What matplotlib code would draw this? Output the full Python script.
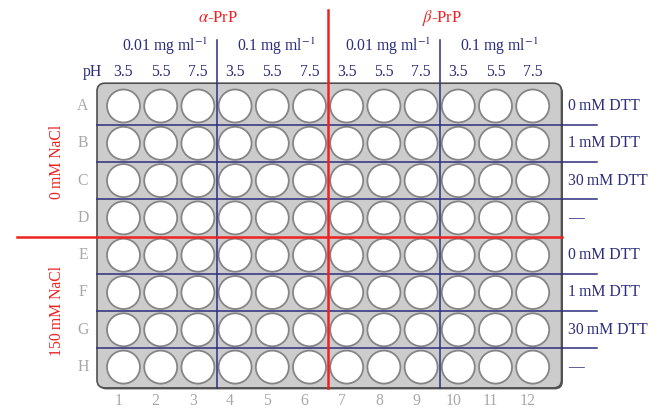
import matplotlib.pyplot as plt
from matplotlib.patches import Circle, FancyBboxPatch

plt.rcParams['font.family'] = ['Liberation Serif', 'DejaVu Serif']
plt.rcParams['mathtext.fontset'] = 'stix'

# plate layout data
rows = ["A", "B", "C", "D", "E", "F", "G", "H"]
cols = [str(i) for i in range(1, 13)]
ph_labels = ["3.5", "5.5", "7.5"] * 4
conc_labels = ["0.01 mg ml$^{-1}$", "0.1 mg ml$^{-1}$"] * 2
protein_labels = [r"$\mathit{\alpha}$-PrP", r"$\mathit{\beta}$-PrP"]
dtt_labels = ["0\u2009mM DTT", "1\u2009mM DTT", "30\u2009mM DTT", "\u2014"] * 2
nacl_labels = ["0\u2009mM NaCl", "150\u2009mM NaCl"]

navy = "#2d2d7c"
red = "#ee2222"
grey = "#a8a8a8"

# pixel geometry
x0, dx = 123.5, 37.2
y0, dy = 106.0, 37.3
r = 16.5

def cx(j):
    return x0 + j * dx

def cy(i):
    return y0 + i * dy

fig = plt.figure(figsize=(6.62, 4.09), dpi=100)
ax = fig.add_axes([0, 0, 1, 1])
ax.set_xlim(0, 662)
ax.set_ylim(409, 0)
ax.axis("off")

left = cx(0) - r - 10
right = cx(11) + r + 12.3
top = cy(0) - r - 6.3
bottom = cy(7) + r + 4.3

# plate shadow + body
shadow = FancyBboxPatch((left + 1.5, top + 1.5), right - left, bottom - top,
                        boxstyle="round,pad=0,rounding_size=8",
                        fc="#555555", ec="none", zorder=1)
ax.add_patch(shadow)
plate = FancyBboxPatch((left, top), right - left, bottom - top,
                       boxstyle="round,pad=0,rounding_size=8",
                       fc="#cccccc", ec="#505050", lw=1.2, zorder=2)
ax.add_patch(plate)

# wells
for i in range(len(rows)):
    for j in range(len(cols)):
        ax.add_patch(Circle((cx(j), cy(i)), r, fc="white", ec="#858585",
                            lw=1.3, zorder=3))

# horizontal separators
for i in range(len(rows) - 1):
    yy = (cy(i) + cy(i + 1)) / 2
    if i == 3:
        ax.plot([17, right], [yy, yy], color=red, lw=1.8, zorder=5)
    else:
        ax.plot([left, 597], [yy, yy], color=navy, lw=1.1, zorder=4)

# vertical separators
for j in [2, 8]:
    xx = (cx(j) + cx(j + 1)) / 2
    ax.plot([xx, xx], [40, bottom], color=navy, lw=1.1, zorder=4)
xx = (cx(5) + cx(6)) / 2
ax.plot([xx, xx], [10, bottom], color=red, lw=1.8, zorder=5)

fs = 11.3

# row / column labels
for i, lab in enumerate(rows):
    ax.text(83, cy(i), lab, color=grey, fontsize=fs, ha="center", va="center")
for j, lab in enumerate(cols):
    ax.text(cx(j) - 5, 401, lab, color=grey, fontsize=fs, ha="center", va="center")

# pH values
ax.text(92, 72, "pH", color=navy, fontsize=fs, ha="center", va="center")
for j, lab in enumerate(ph_labels):
    ax.text(cx(j), 72, lab, color=navy, fontsize=fs, ha="center", va="center")

# concentration labels
for k, lab in enumerate(conc_labels):
    xc = (cx(3 * k) + cx(3 * k + 2)) / 2 + 4
    ax.text(xc, 46, lab, color=navy, fontsize=fs, ha="center", va="center")

# protein labels
for k, lab in enumerate(protein_labels):
    xc = (cx(6 * k + 1) + cx(6 * k + 4)) / 2 + 2
    ax.text(xc, 18, lab, color=red, fontsize=12, ha="center", va="center")

# DTT labels
for i, lab in enumerate(dtt_labels):
    ax.text(568, cy(i), lab, color=navy, fontsize=fs, ha="left", va="center")

# NaCl labels
for k, lab in enumerate(nacl_labels):
    yc = (cy(4 * k) + cy(4 * k + 3)) / 2
    ax.text(57, yc, lab, color=red, fontsize=fs, ha="center", va="center",
            rotation=90)

fig.savefig("out.png", dpi=100)
